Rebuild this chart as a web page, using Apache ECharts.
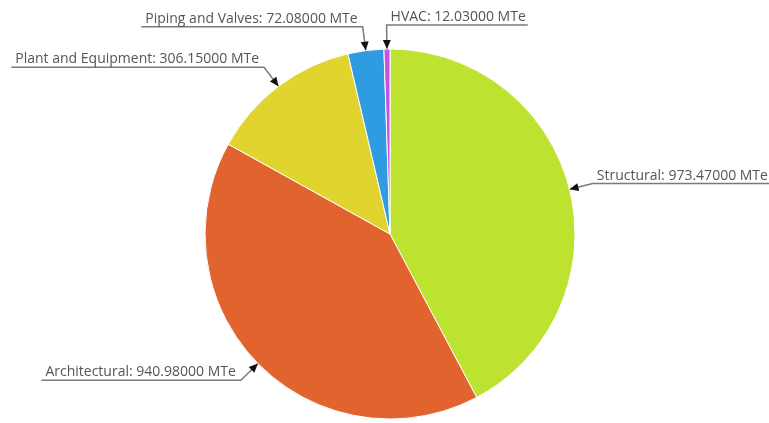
<!DOCTYPE html>
<html><head><meta charset="utf-8">
<script src="https://cdn.jsdelivr.net/npm/echarts@6/dist/echarts.min.js"></script>
<style>html,body{margin:0;padding:0;background:#fff}#c{width:769px;height:423px}</style>
</head><body><div id="c"></div>
<script>
const categories = ['Structural', 'Architectural', 'Plant and Equipment', 'Piping and Valves', 'HVAC'];
const values = [973.47, 940.98, 306.15, 72.08, 12.03];
const colors = ['#bde22f', '#e1632e', '#e1d42e', '#2f9be1', '#c552e0'];
const unit = 'MTe';

const chart = echarts.init(document.getElementById('c'));
const arrowInfo = [];
const CX = 390, CY = 234;

function labelLayout(params) {
  const pts = params.labelLinePoints;
  if (!pts) return {};
  const p0 = pts[0], p1 = pts[1];
  const isLeft = p1[0] < CX - 10;
  const w = params.labelRect.width;
  arrowInfo[params.dataIndex] = [p0.slice(), p1.slice()];
  return {
    x: isLeft ? p1[0] - 5 : p1[0] + 4,
    y: p1[1] - 1,
    align: isLeft ? 'right' : 'left',
    verticalAlign: 'bottom',
    labelLinePoints: [p0, p1, [isLeft ? p1[0] - w - 9 : p1[0] + w + 6, p1[1]]]
  };
}

const option = {
  animation: false,
  backgroundColor: '#fff',
  series: [{
    type: 'pie',
    center: [CX, CY],
    radius: 185,
    startAngle: 90,
    clockwise: true,
    avoidLabelOverlap: false,
    data: categories.map((n, i) => ({ name: n, value: values[i], itemStyle: { color: colors[i] } })),
    itemStyle: { borderColor: '#fff', borderWidth: 1 },
    label: {
      show: true,
      position: 'outside',
      formatter: p => p.name + ': ' + p.value.toFixed(5) + ' ' + unit,
      fontFamily: 'Open Sans',
      fontSize: 14,
      color: '#555',
      padding: 0
    },
    labelLine: {
      show: true,
      length: 24,
      length2: 10,
      smooth: false,
      lineStyle: { color: '#7a7a7a', width: 1.5 }
    },
    labelLayout: labelLayout,
    emphasis: { disabled: true }
  }]
};
chart.setOption(option);

function arrows() {
  const els = [];
  arrowInfo.forEach((a) => {
    if (!a) return;
    const [p0, p1] = a;
    const dx = p0[0] - p1[0], dy = p0[1] - p1[1];
    const L = Math.hypot(dx, dy) || 1;
    const ux = dx / L, uy = dy / L;
    const len = 9, hw = 4;
    const bx = p0[0] - ux * len, by = p0[1] - uy * len;
    els.push({
      type: 'polygon',
      silent: true,
      z: 100,
      shape: { points: [[p0[0], p0[1]], [bx - uy * hw, by + ux * hw], [bx + uy * hw, by - ux * hw]] },
      style: { fill: '#111' }
    });
  });
  return els;
}
chart.setOption({ graphic: arrows() });
</script></body></html>
